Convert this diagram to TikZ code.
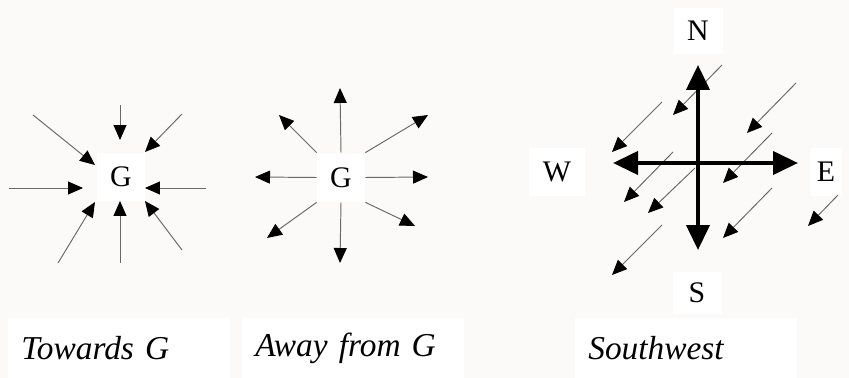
\documentclass[tikz,border=0pt]{standalone}
\usepackage{fontspec}
\setmainfont{Liberation Serif}
\usetikzlibrary{arrows.meta}
\definecolor{paper}{RGB}{251,250,248}
\definecolor{shaft}{RGB}{105,105,105}

\begin{document}
\begin{tikzpicture}[
    x=0.02cm, y=-0.02cm,
    letter/.style={fill=white,inner sep=0pt,font=\fontsize{17}{17}\selectfont},
    caption/.style={fill=white,anchor=north west,inner xsep=0.26cm,inner ysep=0pt,
      text width=3.92cm,minimum height=1.2cm,align=left,font=\fontsize{19}{19}\selectfont\itshape},
    thinarrow/.style={draw=shaft,line width=0.55pt,-{Triangle[length=0.3cm,width=0.26cm,black]}},
    boldarrow/.style={draw=black,line width=2.3pt,-{Triangle[length=0.5cm,width=0.46cm]}}
  ]
    \useasboundingbox (0,0) rectangle (849,378);
    \fill[paper] (0,0) rectangle (849,378);

    % captions
    \node[caption] (captowards) at (8,318) {Towards G};
    \node[caption] (capaway) at (242,318) {Away from G};
    \node[caption] (capsw) at (575,318) {Southwest};

    % towards G
    \node[letter,minimum width=0.96cm,minimum height=0.96cm] (G1) at (121,177) {G};
    \foreach \n/\xa/\ya/\xb/\yb in {1/120/105/120/140, 2/33/115/95/165, 3/182/114/145/152,
        4/9/188/83/188, 5/206/188/145/188, 6/58/263/95/202, 7/120/263/120/201, 8/182/250/145/201} {
      \coordinate (in\n) at (\xa,\ya);
      \coordinate (to\n) at (\xb,\yb);
      \draw[thinarrow] (in\n) -- (to\n);
    }

    % away from G
    \node[letter,minimum width=0.96cm,minimum height=0.98cm] (G2) at (341,177.5) {G};
    \foreach \a/\n/\x/\y in {north/n/340/88, north west/nw/279/115, north east/ne/428/115,
        west/w/255/177, east/e/428/177, south west/sw/267/238, south/s/340/263, south east/se/415/226} {
      \coordinate (out\n) at (\x,\y);
      \draw[thinarrow] (G2.\a) -- (out\n);
    }

    % southwest
    \node[letter,minimum width=0.98cm,minimum height=0.94cm] (north) at (698,31) {N};
    \node[letter,minimum width=0.98cm,minimum height=0.86cm] (south) at (697,293) {S};
    \node[letter,minimum width=1.14cm,minimum height=0.96cm] (west) at (557,172) {W};
    \node[letter,minimum width=0.64cm,minimum height=0.96cm] (east) at (826,172) {E};

    \foreach \n/\xa/\ya/\xb/\yb in {1/722/65/673/115, 2/796/83/747/133, 3/662/102/612/152,
        4/772/133/723/183, 5/673/152/624/202, 6/695/168/648/213, 7/838/195/808/226,
        8/772/188/723/238, 9/662/225/612/275} {
      \coordinate (wind\n) at (\xa,\ya);
      \coordinate (drift\n) at (\xb,\yb);
      \draw[thinarrow] (wind\n) -- (drift\n);
    }

    \coordinate (hub) at (698,163);
    \foreach \d/\x/\y in {n/698/65, s/698/250, w/613/163, e/798/163} {
      \coordinate (tip\d) at (\x,\y);
      \draw[boldarrow] (hub) -- (tip\d);
    }
\end{tikzpicture}
\end{document}
